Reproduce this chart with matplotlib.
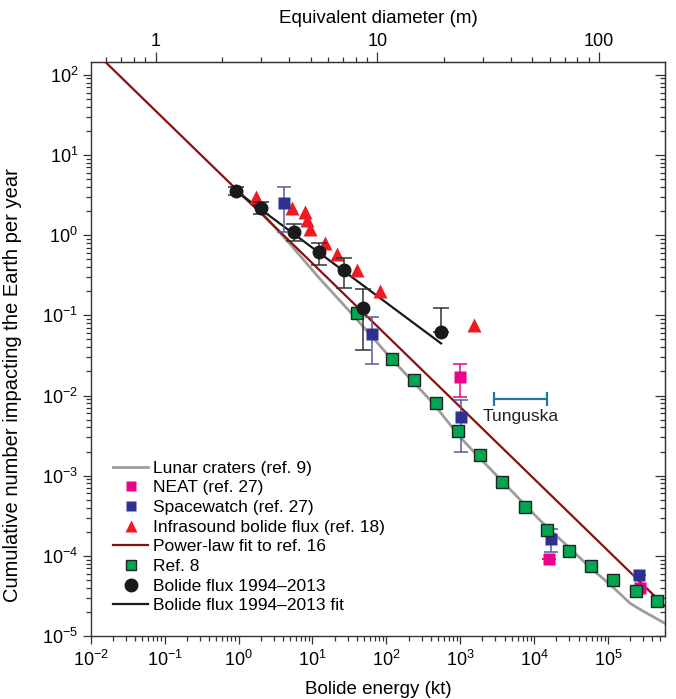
import numpy as np
import matplotlib
matplotlib.use('Agg')
import matplotlib.pyplot as plt
from matplotlib.lines import Line2D
from matplotlib.ticker import LogLocator, FuncFormatter, NullFormatter

plt.rcParams['font.family'] = ['Liberation Sans', 'DejaVu Sans']
plt.rcParams['mathtext.fontset'] = 'custom'
plt.rcParams['mathtext.rm'] = 'Liberation Sans'
plt.rcParams['mathtext.default'] = 'regular'
plt.rcParams['font.size'] = 12.5

# --- data (energy in kt, cumulative number per year) ---
lunar_e = [0.98, 2.08, 4.98, 12.7, 35.4, 112, 429, 993, 1850, 1.2e4, 5.7e4, 1.17e5, 1.99e5, 2.86e5, 5.97e5]
lunar_n = [3.46, 1.89, 0.776, 0.284, 0.101, 0.0301, 0.00804, 0.00303, 0.00165, 2.78e-4, 7.21e-5, 4.06e-5,
           2.56e-5, 2.09e-5, 1.43e-5]

neat_e = [993, 1.58e4, 2.72e5]
neat_n = [0.0171, 9.1e-5, 3.94e-5]
neat_hi = [0.0244, 9.1e-5, 3.94e-5]
neat_lo = [0.00946, 9.1e-5, 3.94e-5]

sw_e = [4.17, 64.6, 1026, 16800, 2.63e5]
sw_n = [2.5, 0.059, 0.00533, 1.61e-4, 5.73e-5]
sw_hi = [3.98, 0.0944, 0.00877, 2.15e-4, 5.73e-5]
sw_lo = [1.1, 0.0249, 0.00196, 1.11e-4, 5.73e-5]

infra_e = [1.75, 5.25, 7.95, 8.45, 9.3, 14.8, 21.3, 39.8, 82, 1540]
infra_n = [2.96, 2.2, 1.95, 1.55, 1.18, 0.81, 0.58, 0.37, 0.20, 0.0757]

powerlaw_e = [0.0158, 5.97e5]
powerlaw_n = [144.5, 2.34e-5]

ref8_e = [40.2, 119, 239, 471, 934, 1870, 3715, 7470, 1.5e4, 2.97e4, 5.89e4, 1.18e5, 2.37e5, 4.65e5]
ref8_n = [0.106, 0.0282, 0.0156, 0.00796, 0.0036, 0.0018, 8.37e-4, 4.12e-4, 2.09e-4, 1.16e-4,
          7.41e-5, 5.06e-5, 3.61e-5, 2.73e-5]

bolide_e = [0.93, 2.0, 5.7, 12.2, 27, 49, 550]
bolide_n = [3.6, 2.2, 1.1, 0.62, 0.37, 0.124, 0.062]
bolide_hi = [4.03, 2.58, 1.38, 0.805, 0.519, 0.211, 0.123]
bolide_lo = [3.15, 1.85, 0.853, 0.421, 0.217, 0.0366, 0.062]

bfit_e = [0.93, 550]
bfit_n = [3.55, 0.0447]

tung_range = [2890, 15070]
tung_n = 0.00893

# colours
GRAY = '#9d9d9d'
MAGENTA = '#ec008c'
BLUE = '#2e3192'
BLUE_ERR = '#5558a8'
RED = '#ed1c24'
DARKRED = '#8b0f0f'
GREEN = '#00a651'
TEAL = '#1f7a9c'


def asym(y, lo, hi):
    y = np.array(y); return [y - np.array(lo), np.array(hi) - y]


fig = plt.figure(figsize=(6.76, 6.99), dpi=100)
ax = fig.add_axes([0.1342, 0.0901, 0.85, 0.8212])

ax.plot(lunar_e, lunar_n, color=GRAY, lw=2.0, zorder=2)
ax.plot(powerlaw_e, powerlaw_n, color=DARKRED, lw=1.6, zorder=3)
ax.plot(bfit_e, bfit_n, color='#1a1a1a', lw=1.6, zorder=3)

ax.errorbar(infra_e, infra_n, fmt='^', color=RED, ms=10, mec='none', zorder=4)
ax.errorbar(sw_e, sw_n, yerr=asym(sw_n, sw_lo, sw_hi), fmt='s', color=BLUE, ms=8, mec='none',
            ecolor=BLUE_ERR, elinewidth=1.1, capsize=5, capthick=1.1, zorder=4)
ax.errorbar(neat_e, neat_n, yerr=asym(neat_n, neat_lo, neat_hi), fmt='s', color=MAGENTA, ms=8, mec='none',
            ecolor=MAGENTA, elinewidth=1.1, capsize=5, capthick=1.1, zorder=4)
ax.plot(ref8_e, ref8_n, 's', color=GREEN, ms=8, mec='#222222', mew=1.0, zorder=5)
ax.errorbar(bolide_e, bolide_n, yerr=asym(bolide_n, bolide_lo, bolide_hi), fmt='o', color='#1a1a1a', ms=9,
            ecolor='#333333', elinewidth=1.1, capsize=6, capthick=1.1, zorder=6)

# Tunguska energy range
tc = np.sqrt(tung_range[0] * tung_range[1])
ax.errorbar([tc], [tung_n], xerr=[[tc - tung_range[0]], [tung_range[1] - tc]], fmt='none',
            ecolor=TEAL, elinewidth=1.6, capsize=5, capthick=1.6, zorder=4)
ax.text(tc, 0.0054, 'Tunguska', ha='center', va='center', fontsize=12.5, color='#222222')

ax.set_xscale('log')
ax.set_yscale('log')
ax.set_xlim(1e-2, 10 ** 5.776)
ax.set_ylim(1e-5, 10 ** 2.16)

ax.xaxis.set_major_locator(LogLocator(base=10, numticks=20))
ax.xaxis.set_minor_locator(LogLocator(base=10, subs=np.arange(2, 10), numticks=20))
ax.yaxis.set_major_locator(LogLocator(base=10, numticks=20))
ax.yaxis.set_minor_locator(LogLocator(base=10, subs=np.arange(2, 10), numticks=20))
ax.xaxis.set_minor_formatter(NullFormatter())
ax.yaxis.set_minor_formatter(NullFormatter())

for s in ax.spines.values():
    s.set_color('#333333')
    s.set_linewidth(1.0)
ax.tick_params(axis='both', which='major', direction='out', length=6, width=0.9, color='#333333',
               labelsize=13, top=False, right=False)
ax.tick_params(axis='both', which='minor', direction='out', length=3.5, width=0.9, color='#333333',
               top=False, right=False)
ax.tick_params(axis='x', which='major', pad=4)
ax.tick_params(axis='y', which='major', pad=3)

# right spine ticks pointing inward
axr = ax.secondary_yaxis('right')
axr.yaxis.set_major_locator(LogLocator(base=10, numticks=20))
axr.yaxis.set_minor_locator(LogLocator(base=10, subs=np.arange(2, 10), numticks=20))
axr.tick_params(axis='y', which='major', direction='in', length=7, width=0.9, color='#333333', labelright=False)
axr.tick_params(axis='y', which='minor', direction='in', length=3.5, width=0.9, color='#333333', labelright=False)
axr.spines['right'].set_color('#333333')

# top axis: equivalent diameter (m), E proportional to D^3
def e_to_d(e):
    return 10 * np.cbrt(np.asarray(e, dtype=float) / 75.5)


def d_to_e(d):
    return 75.5 * (np.asarray(d, dtype=float) / 10) ** 3


axt = ax.secondary_xaxis('top', functions=(e_to_d, d_to_e))
axt.xaxis.set_major_locator(LogLocator(base=10, numticks=20))
axt.xaxis.set_minor_locator(LogLocator(base=10, subs=np.arange(2, 10), numticks=20))
axt.xaxis.set_major_formatter(FuncFormatter(lambda v, p: f'{v:g}'))
axt.xaxis.set_minor_formatter(NullFormatter())
axt.tick_params(axis='x', which='major', direction='out', length=7, width=0.9, color='#333333',
                labelsize=13, pad=2)
axt.tick_params(axis='x', which='minor', direction='out', length=3.5, width=0.9, color='#333333')
axt.spines['top'].set_color('#333333')
axt.set_xlabel('Equivalent diameter (m)', fontsize=13.5, labelpad=7)

ax.set_xlabel('Bolide energy (kt)', fontsize=13.5, labelpad=8)
ax.set_ylabel('Cumulative number impacting the Earth per year', fontsize=14.5)
ax.yaxis.set_label_coords(-0.12, 0.437)

handles = [
    Line2D([], [], color=GRAY, lw=2.0),
    Line2D([], [], ls='none', marker='s', color=MAGENTA, ms=7, mec='none'),
    Line2D([], [], ls='none', marker='s', color=BLUE, ms=7, mec='none'),
    Line2D([], [], ls='none', marker='^', color=RED, ms=9, mec='none'),
    Line2D([], [], color=DARKRED, lw=1.6),
    Line2D([], [], ls='none', marker='s', color=GREEN, ms=7, mec='#222222', mew=1.0),
    Line2D([], [], ls='none', marker='o', color='#1a1a1a', ms=9),
    Line2D([], [], color='#1a1a1a', lw=1.6),
]
labels = ['Lunar craters (ref. 9)', 'NEAT (ref. 27)', 'Spacewatch (ref. 27)', 'Infrasound bolide flux (ref. 18)',
          'Power-law fit to ref. 16', 'Ref. 8', 'Bolide flux 1994\u20132013', 'Bolide flux 1994\u20132013 fit']
ax.legend(handles, labels, loc='upper left', bbox_to_anchor=(0.027, 0.318), frameon=False, fontsize=12.5,
          handlelength=2.0, handletextpad=0.3, labelspacing=0.26, borderaxespad=0)

fig.savefig('out.png', dpi=100)
